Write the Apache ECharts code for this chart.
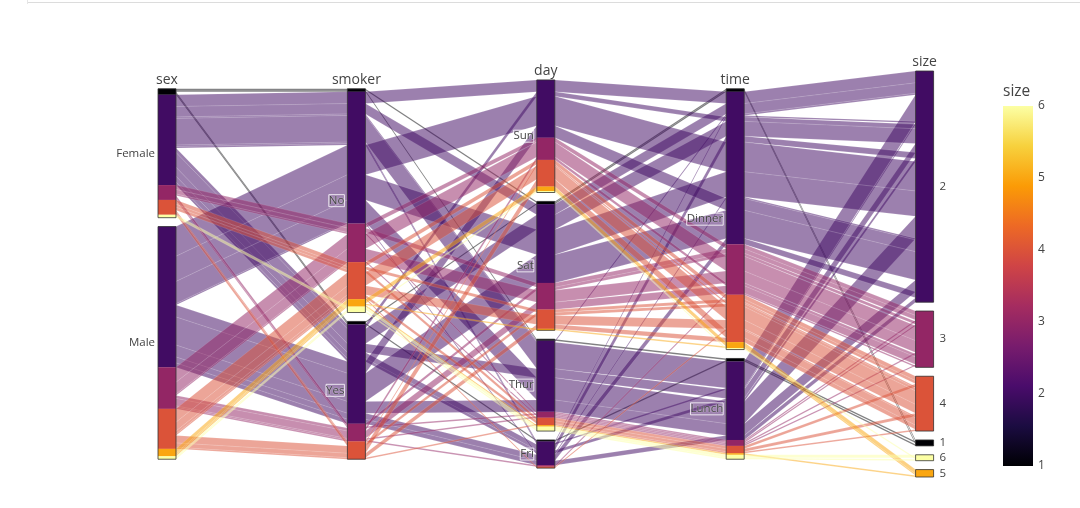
<!DOCTYPE html>
<html><head><meta charset="utf-8">
<script src="https://cdn.jsdelivr.net/npm/echarts@6/dist/echarts.min.js"></script>
<style>html,body{margin:0;padding:0;background:#fff;} #chart{width:1080px;height:508px;}</style>
</head><body><div id="chart"></div>
<script>
const dimensionNames = ['sex', 'smoker', 'day', 'time', 'size'];
const sexCategories = ['Female', 'Male'];
const smokerCategories = ['No', 'Yes'];
const dayCategories = ['Sun', 'Sat', 'Thur', 'Fri'];
const timeCategories = ['Dinner', 'Lunch'];
const sizeCategories = [2, 3, 4, 1, 6, 5];
const colorbarTicks = [1, 2, 3, 4, 5, 6];

// each path: [sex, smoker, day, time, size, count]
const sunPaths = [
  ['Female', 'No', 'Sun', 'Dinner', 2, 8],
  ['Female', 'No', 'Sun', 'Dinner', 3, 3],
  ['Female', 'No', 'Sun', 'Dinner', 4, 3],
  ['Female', 'Yes', 'Sun', 'Dinner', 2, 3],
  ['Female', 'Yes', 'Sun', 'Dinner', 4, 1],
  ['Male', 'No', 'Sun', 'Dinner', 2, 20],
  ['Male', 'No', 'Sun', 'Dinner', 3, 10],
  ['Male', 'No', 'Sun', 'Dinner', 4, 9],
  ['Male', 'No', 'Sun', 'Dinner', 5, 3],
  ['Male', 'No', 'Sun', 'Dinner', 6, 1],
  ['Male', 'Yes', 'Sun', 'Dinner', 2, 8],
  ['Male', 'Yes', 'Sun', 'Dinner', 3, 2],
  ['Male', 'Yes', 'Sun', 'Dinner', 4, 5]
];
const satPaths = [
  ['Female', 'No', 'Sat', 'Dinner', 1, 1],
  ['Female', 'No', 'Sat', 'Dinner', 2, 7],
  ['Female', 'No', 'Sat', 'Dinner', 3, 3],
  ['Female', 'No', 'Sat', 'Dinner', 4, 2],
  ['Female', 'Yes', 'Sat', 'Dinner', 1, 1],
  ['Female', 'Yes', 'Sat', 'Dinner', 2, 10],
  ['Female', 'Yes', 'Sat', 'Dinner', 3, 2],
  ['Female', 'Yes', 'Sat', 'Dinner', 4, 2],
  ['Male', 'No', 'Sat', 'Dinner', 2, 17],
  ['Male', 'No', 'Sat', 'Dinner', 3, 8],
  ['Male', 'No', 'Sat', 'Dinner', 4, 6],
  ['Male', 'No', 'Sat', 'Dinner', 5, 1],
  ['Male', 'Yes', 'Sat', 'Dinner', 2, 19],
  ['Male', 'Yes', 'Sat', 'Dinner', 3, 5],
  ['Male', 'Yes', 'Sat', 'Dinner', 4, 3]
];
const thurPaths = [
  ['Female', 'No', 'Thur', 'Dinner', 2, 1],
  ['Female', 'No', 'Thur', 'Lunch', 1, 1],
  ['Female', 'No', 'Thur', 'Lunch', 2, 18],
  ['Female', 'No', 'Thur', 'Lunch', 3, 1],
  ['Female', 'No', 'Thur', 'Lunch', 4, 2],
  ['Female', 'No', 'Thur', 'Lunch', 6, 2],
  ['Female', 'Yes', 'Thur', 'Lunch', 2, 6],
  ['Female', 'Yes', 'Thur', 'Lunch', 3, 1],
  ['Male', 'No', 'Thur', 'Lunch', 2, 15],
  ['Male', 'No', 'Thur', 'Lunch', 3, 1],
  ['Male', 'No', 'Thur', 'Lunch', 4, 2],
  ['Male', 'No', 'Thur', 'Lunch', 5, 1],
  ['Male', 'No', 'Thur', 'Lunch', 6, 1],
  ['Male', 'Yes', 'Thur', 'Lunch', 2, 8],
  ['Male', 'Yes', 'Thur', 'Lunch', 3, 1],
  ['Male', 'Yes', 'Thur', 'Lunch', 4, 1]
];
const friPaths = [
  ['Female', 'No', 'Fri', 'Dinner', 2, 1],
  ['Female', 'No', 'Fri', 'Lunch', 2, 1],
  ['Female', 'Yes', 'Fri', 'Dinner', 2, 4],
  ['Female', 'Yes', 'Fri', 'Lunch', 1, 1],
  ['Female', 'Yes', 'Fri', 'Lunch', 2, 2],
  ['Male', 'No', 'Fri', 'Dinner', 2, 1],
  ['Male', 'No', 'Fri', 'Dinner', 4, 1],
  ['Male', 'Yes', 'Fri', 'Dinner', 2, 4],
  ['Male', 'Yes', 'Fri', 'Dinner', 3, 1],
  ['Male', 'Yes', 'Fri', 'Lunch', 2, 3]
];

const infernoStops = ['#000004', '#1b0c41', '#4a0c6b', '#781c6d', '#a52c60', '#cf4446', '#ed6925', '#fb9b06', '#f7d13d', '#fcffa4'];
const colorMin = 1, colorMax = 6;

function hexToRgb(h) { return [parseInt(h.slice(1, 3), 16), parseInt(h.slice(3, 5), 16), parseInt(h.slice(5, 7), 16)]; }
function inferno(v, alpha) {
  let t = (v - colorMin) / (colorMax - colorMin);
  t = Math.max(0, Math.min(1, t));
  const n = infernoStops.length - 1;
  const i = Math.min(n - 1, Math.floor(t * n));
  const f = t * n - i;
  const a = hexToRgb(infernoStops[i]), b = hexToRgb(infernoStops[i + 1]);
  const c = a.map((x, k) => Math.round(x + (b[k] - x) * f));
  return 'rgba(' + c[0] + ',' + c[1] + ',' + c[2] + ',' + (alpha == null ? 1 : alpha) + ')';
}

const categoryLists = [sexCategories, smokerCategories, dayCategories, timeCategories, sizeCategories];
const allPaths = [].concat(sunPaths, satPaths, thurPaths, friPaths).map((p, i) => ({
  idx: p.slice(0, 5).map((v, d) => categoryLists[d].indexOf(v)),
  color: p[4], count: p[5], order: i, ys: []
}));
const total = allPaths.reduce((s, p) => s + p.count, 0);
const GAP = 6;
const maxCats = Math.max.apply(null, categoryLists.map(c => c.length));
const yMax = total + GAP * (maxCats - 1);

const catLayout = categoryLists.map((cats, d) => {
  const counts = cats.map((c, ci) => allPaths.filter(p => p.idx[d] === ci).reduce((s, p) => s + p.count, 0));
  const span = total + GAP * (cats.length - 1);
  let y = (yMax - span) / 2;
  return cats.map((c, ci) => {
    const o = { name: String(c), y0: y, y1: y + counts[ci], bands: [] };
    y = o.y1 + GAP;
    return o;
  });
});

const sortedPaths = allPaths.slice().sort((a, b) => {
  if (a.color !== b.color) return a.color - b.color;
  for (let d = 0; d < 5; d++) if (a.idx[d] !== b.idx[d]) return a.idx[d] - b.idx[d];
  return a.order - b.order;
});

catLayout.forEach((cl, d) => {
  const cursor = cl.map(c => c.y0);
  sortedPaths.forEach(p => {
    const ci = p.idx[d];
    const y0 = cursor[ci];
    p.ys[d] = [y0, y0 + p.count];
    cursor[ci] += p.count;
    const bands = cl[ci].bands;
    const last = bands[bands.length - 1];
    if (last && last.color === p.color) last.y1 = y0 + p.count;
    else bands.push({ color: p.color, y0: y0, y1: y0 + p.count });
  });
});

const HW = 9;
const FONT = "'Open Sans', verdana, arial, sans-serif";
const TXT = '#444';

const ribbonData = sortedPaths.map((p, i) => [0, p.ys[0][0], i]);
const catItems = [];
catLayout.forEach((cl, d) => cl.forEach((c, ci) => catItems.push([d, c.y0, ci])));
const dimItems = dimensionNames.map((n, d) => [d, catLayout[d][0].y0]);

const chart = echarts.init(document.getElementById('chart'));
chart.setOption({
  animation: false,
  backgroundColor: '#fff',
  grid: [
    { left: 167, right: 155.4, top: 71, height: 406 },
    { left: 1003, top: 106, width: 30, height: 360 }
  ],
  xAxis: [
    { type: 'value', min: 0, max: dimensionNames.length - 1, show: false, gridIndex: 0 },
    { type: 'value', min: 0, max: 1, show: false, gridIndex: 1 }
  ],
  yAxis: [
    { type: 'value', min: 0, max: yMax, inverse: true, show: false, gridIndex: 0 },
    {
      type: 'value', min: colorMin, max: colorMax, interval: 1, gridIndex: 1, position: 'right',
      axisLine: { show: false }, axisTick: { show: false }, splitLine: { show: false },
      axisLabel: { color: TXT, fontSize: 12, fontFamily: FONT, margin: 5,
        formatter: v => colorbarTicks.indexOf(v) >= 0 ? String(v) : '' }
    }
  ],
  graphic: [
    { type: 'line', shape: { x1: 28, y1: 2.5, x2: 1080, y2: 2.5 }, style: { stroke: '#dcdcdc', lineWidth: 1 } },
    { type: 'line', shape: { x1: 27.5, y1: 0, x2: 27.5, y2: 4 }, style: { stroke: '#e6e6e6', lineWidth: 1 } },
    { type: 'text', left: 1003, top: 84, style: { text: 'size', fill: TXT, fontSize: 15.5, fontFamily: FONT } }
  ],
  series: [
    {
      type: 'custom', xAxisIndex: 0, yAxisIndex: 0, z: 1, clip: false, silent: true,
      data: ribbonData,
      renderItem: function (params, api) {
        const p = sortedPaths[params.dataIndex];
        const top = [], bot = [];
        for (let d = 0; d < dimensionNames.length; d++) {
          const a = api.coord([d, p.ys[d][0]]);
          const b = api.coord([d, p.ys[d][1]]);
          top.push([a[0] - HW, a[1]], [a[0] + HW, a[1]]);
          bot.push([b[0] - HW, b[1]], [b[0] + HW, b[1]]);
        }
        return { type: 'polygon', shape: { points: top.concat(bot.reverse()) },
          style: { fill: inferno(p.color, 0.52), stroke: 'rgba(255,255,255,0.22)', lineWidth: 0.5 } };
      }
    },
    {
      type: 'custom', xAxisIndex: 0, yAxisIndex: 0, z: 2, clip: false, silent: true,
      data: catItems,
      renderItem: function (params, api) {
        const item = catItems[params.dataIndex];
        const d = item[0], cat = catLayout[d][item[2]];
        const children = [];
        cat.bands.forEach(b => {
          const a = api.coord([d, b.y0]), c = api.coord([d, b.y1]);
          children.push({ type: 'rect', shape: { x: a[0] - HW, y: a[1], width: HW * 2, height: c[1] - a[1] },
            style: { fill: inferno(b.color, 1), stroke: null } });
        });
        const t = api.coord([d, cat.y0]), e = api.coord([d, cat.y1]);
        children.push({ type: 'rect', shape: { x: t[0] - HW, y: t[1], width: HW * 2, height: e[1] - t[1] },
          style: { fill: null, stroke: '#333', lineWidth: 0.8 } });
        const last = d === dimensionNames.length - 1;
        children.push({ type: 'text', z2: 10,
          style: { text: cat.name, x: last ? t[0] + HW + 6 : t[0] - HW - 3, y: (t[1] + e[1]) / 2,
            align: last ? 'left' : 'right', verticalAlign: 'middle', fill: TXT, fontSize: 11.5, fontFamily: FONT,
            textBorderColor: last ? 'transparent' : 'rgba(255,255,255,0.8)', textBorderWidth: last ? 0 : 1,
            textShadowColor: last ? 'transparent' : 'rgba(255,255,255,0.9)', textShadowBlur: last ? 0 : 1.5 } });
        return { type: 'group', children: children };
      }
    },
    {
      type: 'custom', xAxisIndex: 0, yAxisIndex: 0, z: 3, clip: false, silent: true,
      data: dimItems,
      renderItem: function (params, api) {
        const d = params.dataIndex;
        const t = api.coord([d, catLayout[d][0].y0]);
        return { type: 'text', style: { text: dimensionNames[d], x: t[0], y: t[1] - 1.5, align: 'center',
          verticalAlign: 'bottom', fill: TXT, fontSize: 14, fontFamily: FONT } };
      }
    },
    {
      type: 'custom', xAxisIndex: 1, yAxisIndex: 1, z: 2, clip: false, silent: true,
      data: [[0, colorMax]],
      renderItem: function (params, api) {
        const a = api.coord([0, colorMax]), b = api.coord([1, colorMin]);
        const stops = infernoStops.map((c, i) => ({ offset: 1 - i / (infernoStops.length - 1), color: c })).reverse();
        return { type: 'rect', shape: { x: a[0], y: a[1], width: b[0] - a[0], height: b[1] - a[1] },
          style: { fill: new echarts.graphic.LinearGradient(0, 0, 0, 1, stops) } };
      }
    }
  ]
});
</script></body></html>
